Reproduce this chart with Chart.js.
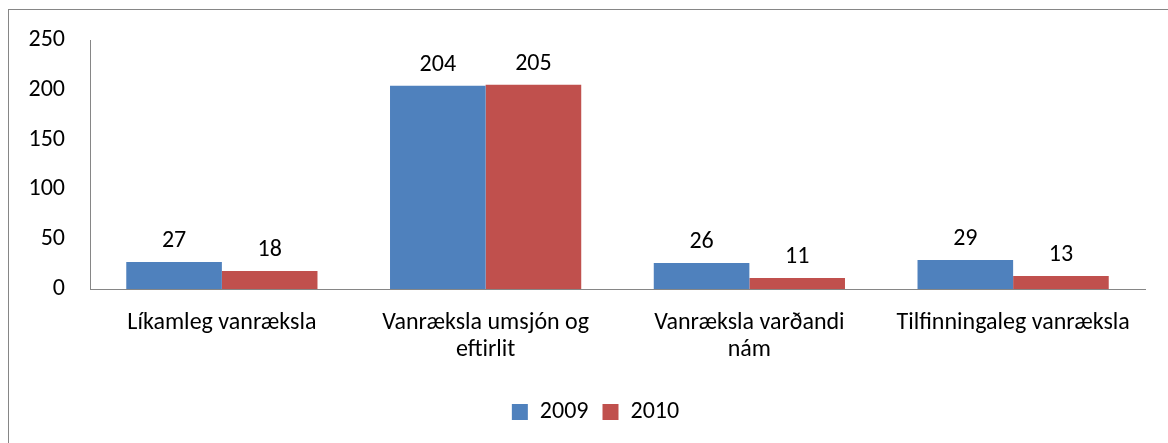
<!DOCTYPE html>
<html>
<head>
<meta charset="utf-8">
<script src="https://cdn.jsdelivr.net/npm/chart.js@4"></script>
<style>
  html, body { margin: 0; padding: 0; background: #fff; }
  #frame { position: absolute; left: 8px; top: 9px; width: 1200px; height: 480px; border: 1px solid #868686; box-sizing: border-box; }
  #wrap { position: absolute; left: 0; top: 0; width: 1168px; height: 443px; }
</style>
</head>
<body>
<div id="frame"></div>
<div id="wrap"><canvas id="chart"></canvas></div>
<script>
// Flokkar og gildi
const categories = [
  'Líkamleg vanræksla',
  ['Vanræksla umsjón og', 'eftirlit'],
  ['Vanræksla varðandi', 'nám'],
  'Tilfinningaleg vanræksla'
];
const values2009 = [27, 204, 26, 29];
const values2010 = [18, 205, 11, 13];
const seriesNames = ['2009', '2010'];
const yTicks = [0, 50, 100, 150, 200, 250];

const fontFamily = "Carlito, Lato, 'Liberation Sans', sans-serif";
const fontSize = 24;

// Teiknar gildin fyrir ofan súlurnar
const valueLabels = {
  id: 'valueLabels',
  afterDatasetsDraw(chart) {
    const ctx = chart.ctx;
    ctx.save();
    ctx.font = fontSize + 'px ' + fontFamily;
    ctx.fillStyle = '#000';
    ctx.textAlign = 'center';
    ctx.textBaseline = 'bottom';
    chart.data.datasets.forEach((ds, i) => {
      const meta = chart.getDatasetMeta(i);
      meta.data.forEach((bar, j) => {
        ctx.fillText(ds.data[j], bar.x, bar.y - 9);
      });
    });
    ctx.restore();
  }
};

// Færir skýringuna aðeins til hægri, eins og í Excel
const shiftLegend = {
  id: 'shiftLegend',
  afterLayout(chart) {
    chart.legend.left += 23;
    chart.legend.right += 23;
  }
};

const ctx = document.getElementById('chart').getContext('2d');
window.chart = new Chart(ctx, {
  type: 'bar',
  data: {
    labels: categories,
    datasets: [
      { label: seriesNames[0], data: values2009, backgroundColor: '#4F81BD', categoryPercentage: 0.725, barPercentage: 1 },
      { label: seriesNames[1], data: values2010, backgroundColor: '#C0504D', categoryPercentage: 0.725, barPercentage: 1 }
    ]
  },
  options: {
    responsive: true,
    maintainAspectRatio: false,
    animation: false,
    layout: { padding: { top: 40, right: 23, left: 0, bottom: 9 } },
    plugins: {
      legend: {
        position: 'bottom',
        labels: {
          font: { family: fontFamily, size: fontSize },
          color: '#000',
          boxWidth: 16,
          boxHeight: 16,
          padding: 14
        }
      },
      tooltip: { enabled: false }
    },
    scales: {
      x: {
        grid: { display: false, drawTicks: false },
        border: { display: true, color: '#868686', width: 1 },
        ticks: { color: '#000', font: { family: fontFamily, size: fontSize, lineHeight: 1.1 }, padding: 21, maxRotation: 0, autoSkip: false },
        afterFit(scale) { scale.height = 97; }
      },
      y: {
        min: 0,
        max: 250,
        grid: { display: false, drawTicks: false },
        border: { display: true, color: '#868686', width: 1 },
        afterBuildTicks(scale) { scale.ticks = yTicks.map(v => ({ value: v })); },
        ticks: { color: '#000', font: { family: fontFamily, size: fontSize }, padding: 25 },
        afterFit(scale) { scale.width = 90; }
      }
    }
  },
  plugins: [valueLabels, shiftLegend]
});
</script>
</body>
</html>
